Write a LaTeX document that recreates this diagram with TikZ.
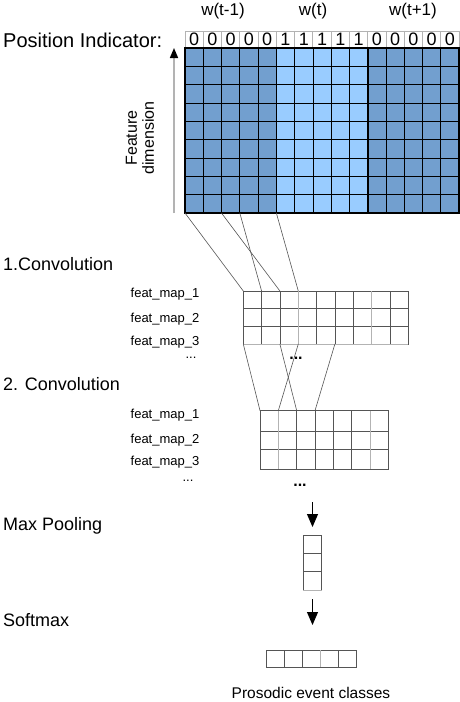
\documentclass[tikz,border=0pt]{standalone}
\usepackage{fontspec}
\setmainfont{Liberation Sans}
\usetikzlibrary{arrows.meta}
\definecolor{cnnDark}{HTML}{729FCF}
\definecolor{cnnLight}{HTML}{99CCFF}
\definecolor{cnnGrey}{HTML}{B3B3B3}
\definecolor{cnnLine}{HTML}{555555}
\tikzset{
  cnn diagram/.style={x=1pt, y=-1pt, line join=miter},
  cnn grid/.style={draw=black, line width=0.7pt},
  cnn faint/.style={draw=cnnGrey, line width=0.9pt},
  cnn block/.style={draw=black, line width=1.6pt},
  cnn cell/.style={draw=cnnLine, line width=0.7pt},
  cnn bit/.style={draw=cnnGrey, line width=0.8pt, minimum width=18.27pt,
    minimum height=17pt, inner sep=0pt, font=\fontsize{18}{20}\selectfont},
  cnn filter/.style={draw=cnnLine, line width=0.6pt},
  cnn arrow/.style={-{Triangle[length=13pt,width=11pt]}, draw=black, line width=0.9pt},
  cnn axis/.style={-{Triangle[length=10pt,width=8pt,color=black]},
    draw=cnnGrey, line width=1.6pt},
  cnn title/.style={anchor=west, inner sep=0pt, font=\fontsize{20}{24}\selectfont},
  cnn word/.style={inner sep=0pt, font=\fontsize{17}{20}\selectfont},
  cnn layer/.style={anchor=west, inner sep=0pt, font=\fontsize{18}{21}\selectfont},
  cnn map/.style={inner sep=0pt, font=\fontsize{13}{15}\selectfont},
  cnn ellipsis/.style={inner sep=0pt, text height=1.5pt, text depth=0pt},
  cnn dots/.style={cnn ellipsis, font=\fontsize{16}{18}\selectfont\bfseries},
  cnn caption/.style={anchor=base, inner sep=0pt, text depth=0pt,
    font=\fontsize{15.5}{18}\selectfont}
}

\begin{document}
\begin{tikzpicture}[cnn diagram]
\useasboundingbox[fill=white] (0,0) rectangle (460,702);

% input: three words, position indicator and features
\node[cnn title] (posTitle) at (3,40) {Position Indicator:};
\node[cnn word] (wPrev) at (223,11) {w(t-1)};
\node[cnn word] (wCur) at (313,11) {w(t)};
\node[cnn word] (wNext) at (413,11) {w(t+1)};
\foreach \d [count=\i from 0] in {0,0,0,0,0,1,1,1,1,1,0,0,0,0,0}
  \node[cnn bit] (bit\i) at ({185+(\i+0.5)*18.27},39.5) {\d};

\fill[cnnDark] (185,48) rectangle (276.35,213);
\fill[cnnLight] (276.35,48) rectangle (367.7,213);
\fill[cnnDark] (367.7,48) rectangle (459,213);
\foreach \i in {1,...,14}
  \draw[cnn grid] ({185+\i*18.27},48) -- ({185+\i*18.27},213);
\foreach \j in {1,...,8}
  \draw[cnn grid] (185,{48+\j*18.33}) -- (459,{48+\j*18.33});
\draw[cnn block] (185,48) rectangle (276.35,213);
\draw[cnn block] (276.35,48) rectangle (367.7,213);
\draw[cnn block] (367.7,48) rectangle (459,213);

\coordinate (featBottom) at (174,213);
\coordinate (featTop) at (174,48);
\draw[cnn axis] (featBottom) -- (featTop);
\node[cnn word, rotate=90, align=center, font=\fontsize{16}{17}\selectfont]
  (featLabel) at (140,138) {Feature\\dimension};

% first convolution
\node[cnn layer] (convOne) at (3,264) {1.Convolution};
\node[cnn map] (mapOneA) at (165,294) {feat\_map\_1};
\node[cnn map] (mapOneB) at (165,319) {feat\_map\_2};
\node[cnn map] (mapOneC) at (165,342) {feat\_map\_3};
\node[cnn map, cnn ellipsis] (mapOneD) at (191,358) {...};
\foreach \i in {1,...,8}
  \draw[cnn cell] ({243.3+\i*18.33},291) -- ({243.3+\i*18.33},344);
\draw[cnn cell] (243.3,308.5) -- (408.3,308.5);
\draw[cnn cell] (243.3,326) -- (408.3,326);
\draw[cnn cell] (243.3,291) rectangle (408.3,344);
\draw[cnn faint] (298.3,291) -- (298.3,344);
\draw[cnn faint] (371.6,291) -- (371.6,344);
\draw[cnn faint] (243.3,344) -- (408.3,344);
\node[cnn dots] (convOneDots) at (296,359) {...};

\coordinate (inA) at (185,213);
\coordinate (inB) at (221.5,213);
\coordinate (inC) at (239.8,213);
\coordinate (inD) at (276.35,213);
\coordinate (oneTopA) at (243.3,291);
\coordinate (oneTopB) at (261.6,291);
\coordinate (oneTopC) at (279.9,291);
\coordinate (oneTopD) at (298.3,291);
\draw[cnn filter] (inA) -- (oneTopA);
\draw[cnn filter] (inB) -- (oneTopC);
\draw[cnn filter] (inC) -- (oneTopB);
\draw[cnn filter] (inD) -- (oneTopD);

% second convolution
\node[cnn layer] (convTwo) at (3,384) {2. Convolution};
\node[cnn map] (mapTwoA) at (165,415) {feat\_map\_1};
\node[cnn map] (mapTwoB) at (165,440) {feat\_map\_2};
\node[cnn map] (mapTwoC) at (165,462) {feat\_map\_3};
\node[cnn map, cnn ellipsis] (mapTwoD) at (188,481) {...};
\foreach \i in {1,...,6}
  \draw[cnn cell] ({260+\i*18.33},410.7) -- ({260+\i*18.33},469);
\draw[cnn cell] (260,431.5) -- (388.3,431.5);
\draw[cnn cell] (260,449.3) -- (388.3,449.3);
\draw[cnn cell] (260,410.7) rectangle (388.3,469);
\draw[cnn faint] (278.3,410.7) -- (278.3,469);
\draw[cnn faint] (370,410.7) -- (370,469);
\node[cnn dots] (convTwoDots) at (300,486) {...};

\coordinate (oneBotA) at (243.3,344);
\coordinate (oneBotB) at (279.9,344);
\coordinate (oneBotC) at (298.3,344);
\coordinate (oneBotD) at (334.9,344);
\coordinate (twoTopA) at (260,410.7);
\coordinate (twoTopB) at (278.3,410.7);
\coordinate (twoTopC) at (296.7,410.7);
\coordinate (twoTopD) at (315,410.7);
\draw[cnn filter] (oneBotA) -- (twoTopA);
\draw[cnn filter] (oneBotB) -- (twoTopC);
\draw[cnn filter] (oneBotC) -- (twoTopB);
\draw[cnn filter] (oneBotD) -- (twoTopD);

% pooling and softmax
\node[cnn layer] (maxPool) at (3,526) {Max Pooling};
\coordinate (poolFrom) at (312.5,502);
\coordinate (poolTo) at (312.5,527);
\draw[cnn arrow] (poolFrom) -- (poolTo);
\draw[cnn cell] (303.3,553.3) -- (321.7,553.3);
\draw[cnn cell] (303.3,571.7) -- (321.7,571.7);
\draw[cnn cell] (303.3,535) rectangle (321.7,590);
\draw[cnn faint] (303.3,590) -- (321.7,590);

\node[cnn layer] (softMax) at (3,620) {Softmax};
\coordinate (softFrom) at (312.5,599);
\coordinate (softTo) at (312.5,625);
\draw[cnn arrow] (softFrom) -- (softTo);
\foreach \i in {1,...,4}
  \draw[cnn cell] ({266+\i*18.14},650) -- ({266+\i*18.14},667.3);
\draw[cnn cell] (266,650) rectangle (356.7,667.3);
\draw[cnn faint] (320.4,650) -- (320.4,667.3);
\node[cnn caption] (classes) at (311,698) {Prosodic event classes};
\end{tikzpicture}
\end{document}
